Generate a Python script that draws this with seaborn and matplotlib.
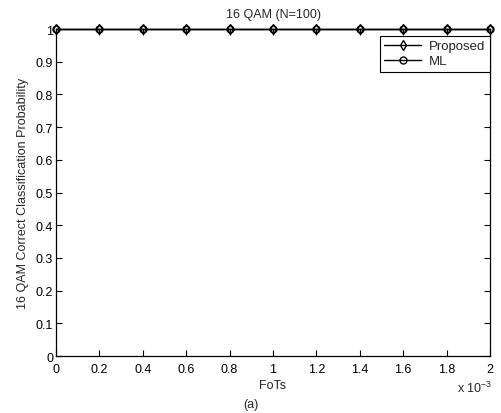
import matplotlib
matplotlib.use("Agg")
import matplotlib.pyplot as plt
import seaborn as sns
import pandas as pd
from matplotlib.ticker import FuncFormatter, MultipleLocator

fots = [0, 0.0002, 0.0004, 0.0006, 0.0008, 0.001, 0.0012, 0.0014, 0.0016, 0.0018, 0.002]
proposed = [1, 1, 1, 1, 1, 1, 1, 1, 1, 1, 1]
ml = [1, 1, 1, 1, 1, 1, 1, 1, 1, 1, 1]

df = pd.concat([
    pd.DataFrame({"FoTs": fots, "p": proposed, "method": "Proposed"}),
    pd.DataFrame({"FoTs": fots, "p": ml, "method": "ML"}),
])

sns.set_theme(style="ticks")
plt.rcParams["font.family"] = ["Liberation Sans", "DejaVu Sans"]
plt.rcParams["mathtext.fontset"] = "custom"
plt.rcParams["mathtext.rm"] = "Liberation Sans"

fig = plt.figure(figsize=(5.01, 4.14), dpi=100)
ax = fig.add_axes([56/501, 1 - 357/414, (490-56)/501, (357-30)/414])

sns.lineplot(data=df, x="FoTs", y="p", hue="method", style="method",
             markers={"Proposed": "d", "ML": "o"}, dashes=False,
             palette={"Proposed": "black", "ML": "black"},
             markersize=5, markerfacecolor="none", markeredgecolor="black",
             markeredgewidth=1.0, linewidth=1.0, ax=ax, legend=True,
             clip_on=False)

ax.set_xlim(0, 0.002)
ax.set_ylim(0, 1)
ax.xaxis.set_major_locator(MultipleLocator(0.0002))
ax.yaxis.set_major_locator(MultipleLocator(0.1))
ax.xaxis.set_major_formatter(FuncFormatter(lambda v, p: f"{v*1e3:g}"))
ax.yaxis.set_major_formatter(FuncFormatter(lambda v, p: f"{v:g}"))
ax.tick_params(direction="in", length=4, width=0.8, labelsize=9, colors="black",
               top=True, right=True, pad=2)
ax.tick_params(axis="x", pad=5)
for s in ax.spines.values():
    s.set_visible(True)
    s.set_color("black")
    s.set_linewidth(0.9)

ax.set_title("16 QAM (N=100)", fontsize=9, pad=9)
ax.set_xlabel("FoTs", fontsize=9, labelpad=3)
ax.set_ylabel("16 QAM Correct Classification Probability", fontsize=9, labelpad=5)
fig.text(457/501, 1 - 388/414, r"x 10$^{-3}$", fontsize=9, ha="left", va="center")
fig.text(0.5, 1 - 405/414, "(a)", fontsize=9, ha="center", va="center")

leg = ax.legend(loc="upper right", fontsize=9.5, frameon=True, fancybox=False,
                edgecolor="black", framealpha=1, borderaxespad=0.0,
                bbox_to_anchor=(1.0, 0.98), handlelength=2.8, borderpad=0.35,
                labelspacing=0.2, handletextpad=0.6)
leg.get_frame().set_linewidth(0.8)
for h in leg.legend_handles:
    h.set_markerfacecolor("none")
    h.set_markeredgecolor("black")

fig.savefig("out.png", dpi=100)
